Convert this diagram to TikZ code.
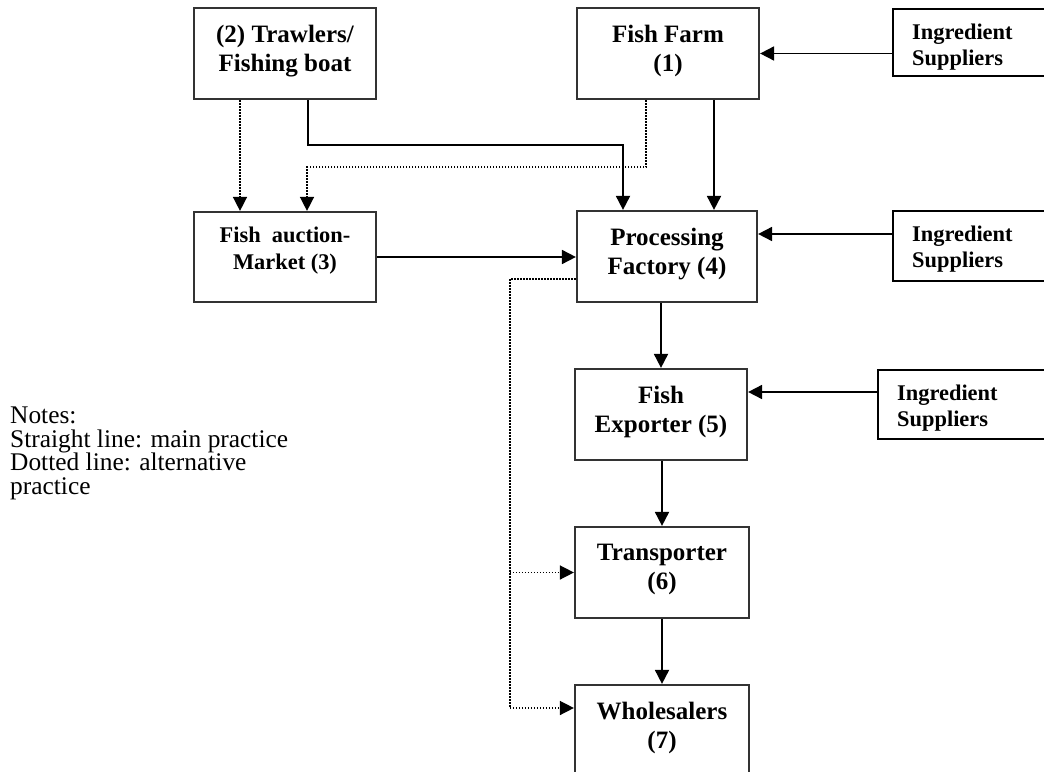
\documentclass[tikz,border=0pt]{standalone}
\usepackage{fontspec}
\setmainfont{Liberation Serif}
\usetikzlibrary{arrows.meta,positioning,calc}
\def \txtY {18pt}
\def \supY {16pt}
\newcommand\bigtxt{\fontsize{25}{29.5}\selectfont\bfseries}
\newcommand\smalltxt{\fontsize{22.4}{25.5}\selectfont\bfseries}
\newcommand\notetxt{\fontsize{25.4}{23.5}\selectfont}
\tikzset{
 	block/.style= {draw=black!80, line width=2.2pt, rectangle, minimum width=182pt, minimum height=91pt, inner sep=0pt},
 	supplierblock/.style= {draw=black, line width=2pt, rectangle, minimum width=180pt, minimum height=69pt, inner sep=0pt},
 	blocktext/.style= {align=center, inner sep=0pt, anchor=north, font=\bigtxt},
 	suppliertext/.style= {align=left, inner sep=0pt, anchor=north west, font=\smalltxt},
 	notetext/.style= {align=left, inner sep=0pt, anchor=north west, font=\notetxt},
 	mainline/.style= {line width=1.8pt, -{Triangle[length=14pt,width=14pt]}},
 	altline/.style= {line width=1.5pt, dash pattern=on 1.5pt off 1.5pt, -{Triangle[length=14pt,width=14pt]}}
 }
\begin{document}
\begin{tikzpicture}[x=1pt,y=-1pt]
\useasboundingbox (0,0) rectangle (1044,771);

%%%%%%%%%%%%%%%%%%%%% Nodes %%%%%%%%%%%%%%%%%%%%%
	\node [block] (boat) at (285,53.5) {};
	\node [block] (farm) at (668,53.5) {};
	\node [supplierblock, minimum height=67pt] (ing1) at (983,42.5) {};
	\node [block, minimum height=90pt] (auction) at (285,257) {};
	\node [block, minimum width=180pt] (factory) at (667,256.5) {};
	\node [supplierblock, minimum height=70pt] (ing2) at (983,246) {};
	\node [block, minimum width=172pt] (exporter) at (661,414.5) {};
	\node [supplierblock] (ing3) at (968,404.5) {};
	\node [block, minimum width=174pt] (transporter) at (662,572.5) {};
	\node [block, minimum width=174pt] (wholesalers) at (662,730.5) {};

%%%%%%%%%%%%%%%%%%%%% Texts %%%%%%%%%%%%%%%%%%%%%
	\node [blocktext] (boat_t) at ([yshift=-\txtY]boat.north) {(2) Trawlers/\\Fishing boat};
	\node [blocktext] (farm_t) at ([yshift=-\txtY]farm.north) {Fish Farm\\(1)};
	\node [blocktext, font=\fontsize{22.4}{27}\selectfont\bfseries] (auction_t) at ([yshift=-\supY]auction.north) {Fish\ \ auction-\\Market (3)};
	\node [blocktext] (factory_t) at ([yshift=-\txtY]factory.north) {Processing\\Factory (4)};
	\node [blocktext] (exporter_t) at ([yshift=-\txtY]exporter.north) {Fish\\Exporter (5)};
	\node [blocktext] (transporter_t) at ([yshift=-\txtY]transporter.north) {Transporter\\(6)};
	\node [blocktext] (wholesalers_t) at ([yshift=-\txtY]wholesalers.north) {Wholesalers\\(7)};
	\node [suppliertext] (ing1_t) at ([xshift=20pt,yshift=-\supY]ing1.north west) {Ingredient\\Suppliers};
	\node [suppliertext] (ing2_t) at ([xshift=20pt,yshift=-\supY]ing2.north west) {Ingredient\\Suppliers};
	\node [suppliertext] (ing3_t) at ([xshift=20pt,yshift=-\supY]ing3.north west) {Ingredient\\Suppliers};
	\node [notetext] (notes) at (10,407) {Notes:\\Straight line: main practice\\Dotted line: alternative\\practice};

%%%%%%%%%%%%%%%%%%%%% Connectors %%%%%%%%%%%%%%%%%%%%%
	\draw [mainline] ([xshift=23pt]boat.south) -- ++(0,45) -| ([xshift=-44pt]factory.north);
	\draw [mainline] ([xshift=46pt]farm.south) -- ([xshift=46pt]farm.south |- factory.north);
	\draw [altline] ([xshift=-45pt]boat.south) -- ([xshift=-45pt]auction.north);
	\draw [altline] ([xshift=-22pt]farm.south) -- ++(0,67) -| ([xshift=22pt]auction.north);
	\draw [mainline] (ing1.west |- farm.east) -- (farm.east);
	\draw [mainline] ([yshift=12pt]ing2.west) -- ([yshift=12pt]ing2.west -| factory.east);
	\draw [mainline] ([yshift=12.5pt]ing3.west) -- ([yshift=12.5pt]ing3.west -| exporter.east);
	\draw [mainline] (auction.east) -- (auction.east -| factory.west);
	\draw [mainline] (exporter.north |- factory.south) -- (exporter.north);
	\draw [mainline] (transporter.north |- exporter.south) -- (transporter.north);
	\draw [mainline] (transporter) -- (wholesalers);
	\draw [altline] ([yshift=-22.5pt]factory.west) -- ++(-66,0) coordinate (drop) |- ([yshift=22.5pt]wholesalers.west);
	\draw [altline] (drop |- transporter.west) -- (transporter.west);

\end{tikzpicture}
\end{document}
